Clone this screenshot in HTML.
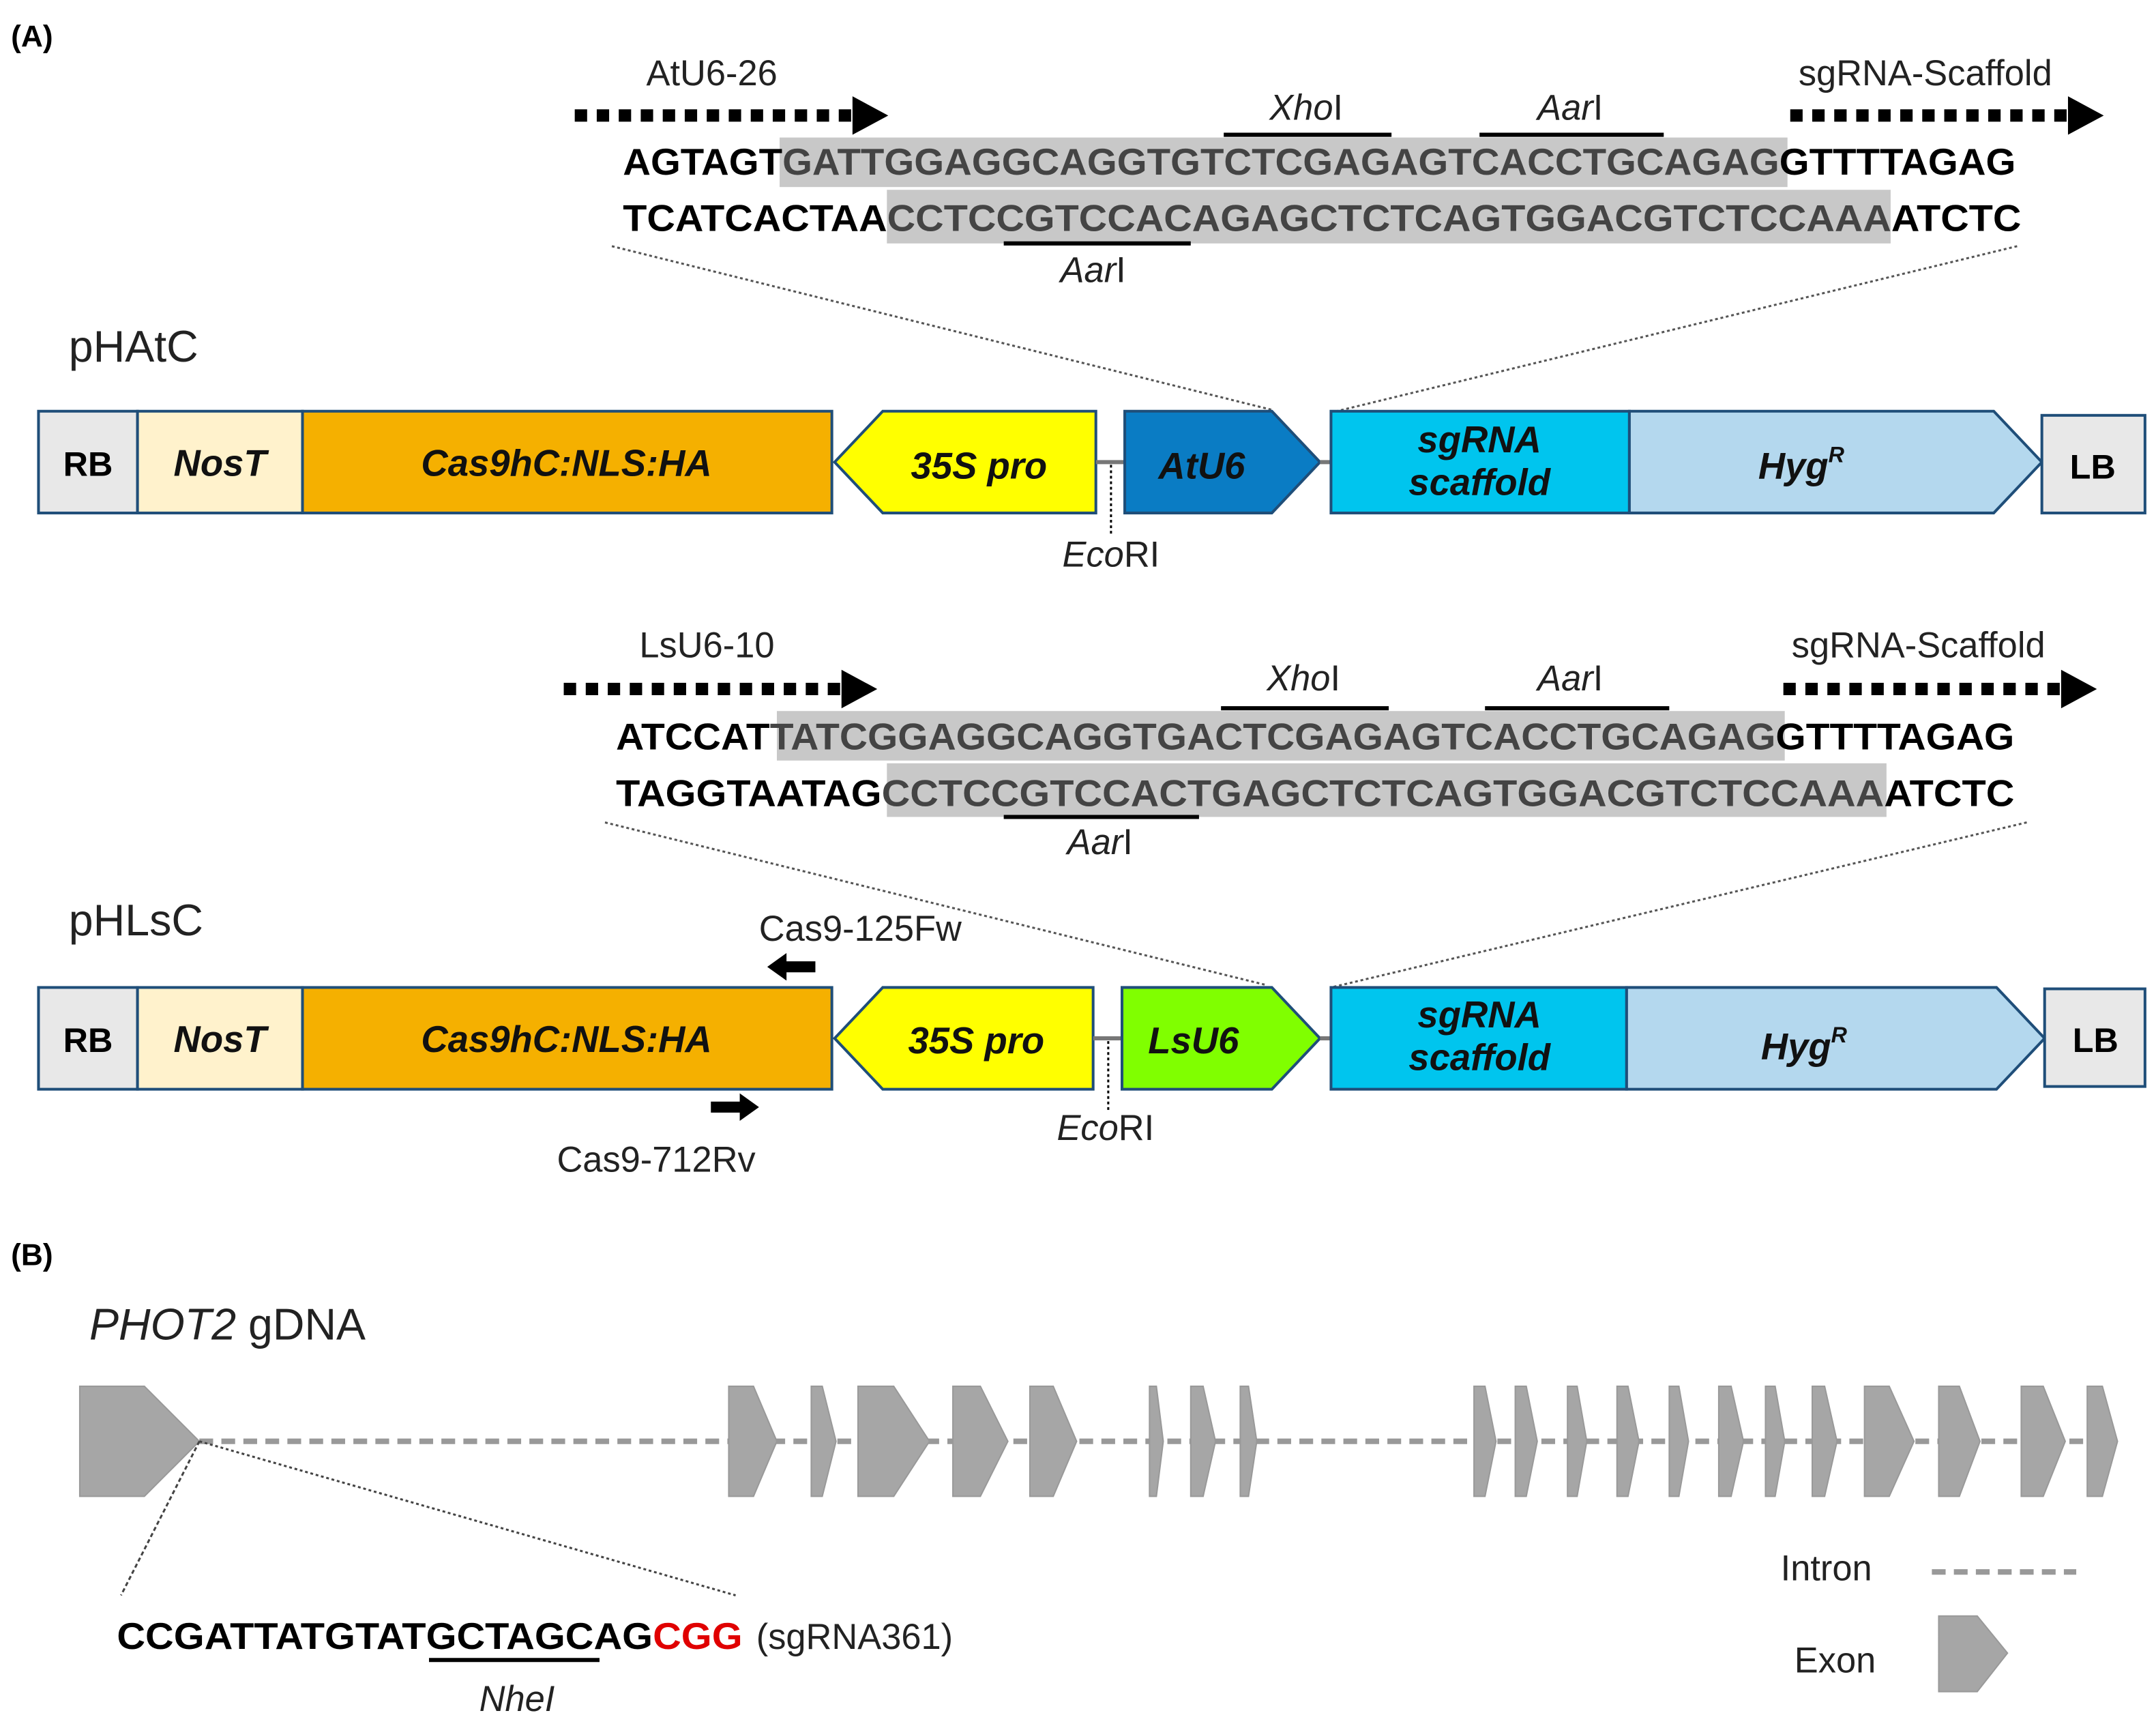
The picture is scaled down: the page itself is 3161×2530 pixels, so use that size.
<!DOCTYPE html>
<html><head><meta charset="utf-8"><style>
html,body{margin:0;padding:0;background:#fff;}
svg{display:block;}
text{font-family:"Liberation Sans",sans-serif;}
.seq{font-weight:bold;font-size:27px;}
.lab{font-size:26px;fill:#222;}
.box{stroke:#1F4E79;stroke-width:2;}
.bt{font-weight:bold;font-style:italic;font-size:27px;fill:#111;}
.ex{fill:#A6A6A6;stroke:#999;stroke-width:1;}
</style></head><body>
<svg width="3161" height="2530" viewBox="0 0 1568 1255" xmlns="http://www.w3.org/2000/svg">
<defs>
<g id="dash"><line x1="0" y1="0" x2="202" y2="0" stroke="#000" stroke-width="9" stroke-dasharray="9,7"/><polygon points="202,-14 228,0 202,14" fill="#000"/></g>
</defs>
<text x="8" y="34" font-weight="bold" font-size="22">(A)</text>

<!-- Block 1 -->
<text x="470" y="62" class="lab">AtU6-26</text>
<use href="#dash" x="418" y="84"/>
<text x="1308" y="62" class="lab">sgRNA-Scaffold</text>
<use href="#dash" x="1302" y="84"/>
<text x="950" y="87" class="lab" text-anchor="middle"><tspan font-style="italic">Xho</tspan>I</text>
<line x1="890" y1="98" x2="1012" y2="98" stroke="#000" stroke-width="3"/>
<text x="1142" y="87" class="lab" text-anchor="middle"><tspan font-style="italic">Aar</tspan>I</text>
<line x1="1076" y1="98" x2="1210" y2="98" stroke="#000" stroke-width="3"/>
<rect x="567" y="100" width="733" height="36" fill="#C8C8C8"/>
<rect x="645" y="138" width="730" height="39" fill="#C8C8C8"/>
<text x="453" y="127" class="seq" textLength="1013" lengthAdjust="spacingAndGlyphs">AGTAGT<tspan fill="#444">GATTGGAGGCAGGTGTCTCGAGAGTCACCTGCAGAG</tspan>GTTTTAGAG</text>
<text x="453" y="168" class="seq" textLength="1017" lengthAdjust="spacingAndGlyphs">TCATCACTAA<tspan fill="#444">CCTCCGTCCACAGAGCTCTCAGTGGACGTCTCCAAA</tspan>ATCTC</text>
<line x1="730" y1="177" x2="866" y2="177" stroke="#000" stroke-width="3"/>
<text x="795" y="205" class="lab" text-anchor="middle"><tspan font-style="italic">Aar</tspan>I</text>
<line x1="445" y1="179" x2="925" y2="298" stroke="#555" stroke-width="1.5" stroke-dasharray="2,2"/>
<line x1="1467" y1="179" x2="968" y2="300" stroke="#555" stroke-width="1.5" stroke-dasharray="2,2"/>

<text x="50" y="263" font-size="32" fill="#222">pHAtC</text>
<g>
<rect x="28" y="299" width="72" height="74" fill="#E8E8E8" class="box"/>
<rect x="100" y="299" width="120" height="74" fill="#FFF2CC" class="box"/>
<rect x="220" y="299" width="385" height="74" fill="#F5B000" class="box"/>
<polygon points="607,336 642,299 797,299 797,373 642,373" fill="#FFFF00" class="box"/>
<line x1="797" y1="336" x2="818" y2="336" stroke="#777" stroke-width="3"/>
<line x1="808" y1="338" x2="808" y2="390" stroke="#000" stroke-width="1.5" stroke-dasharray="2,2"/>
<polygon points="818,299 925,299 960,336 925,373 818,373" fill="#0A7CC4" class="box"/>
<line x1="960" y1="336" x2="968" y2="336" stroke="#777" stroke-width="3"/>
<rect x="968" y="299" width="217" height="74" fill="#00C5EE" class="box"/>
<polygon points="1185,299 1450,299 1485,336 1450,373 1185,373" fill="#B4D8EE" class="box"/>
<rect x="1485" y="302" width="75" height="71" fill="#E8E8E8" class="box"/>
<text x="64" y="346" font-weight="bold" font-size="25" text-anchor="middle">RB</text>
<text x="160" y="346" class="bt" text-anchor="middle">NosT</text>
<text x="412" y="346" class="bt" text-anchor="middle">Cas9hC:NLS:HA</text>
<text x="712" y="348" class="bt" text-anchor="middle">35S pro</text>
<text x="874" y="348" class="bt" text-anchor="middle">AtU6</text>
<text x="1076" y="329" class="bt" text-anchor="middle">sgRNA</text>
<text x="1076" y="360" class="bt" text-anchor="middle">scaffold</text>
<text x="1310" y="348" class="bt" text-anchor="middle">Hyg<tspan font-size="16" dy="-12">R</tspan></text>
<text x="1522" y="348" font-weight="bold" font-size="25" text-anchor="middle">LB</text>
<text x="808" y="412" class="lab" text-anchor="middle"><tspan font-style="italic">Eco</tspan>RI</text>
</g>

<!-- Block 2 -->
<text x="465" y="478" class="lab">LsU6-10</text>
<use href="#dash" x="410" y="501"/>
<text x="1303" y="478" class="lab">sgRNA-Scaffold</text>
<use href="#dash" x="1297" y="501"/>
<text x="948" y="502" class="lab" text-anchor="middle"><tspan font-style="italic">Xho</tspan>I</text>
<line x1="888" y1="515" x2="1010" y2="515" stroke="#000" stroke-width="3"/>
<text x="1142" y="502" class="lab" text-anchor="middle"><tspan font-style="italic">Aar</tspan>I</text>
<line x1="1080" y1="515" x2="1214" y2="515" stroke="#000" stroke-width="3"/>
<rect x="565" y="517" width="733" height="36" fill="#C8C8C8"/>
<rect x="645" y="555" width="727" height="39" fill="#C8C8C8"/>
<text x="448" y="545" class="seq" textLength="1017" lengthAdjust="spacingAndGlyphs">ATCCAT<tspan fill="#444">TATCGGAGGCAGGTGACTCGAGAGTCACCTGCAGAG</tspan>GTTTTAGAG</text>
<text x="448" y="586" class="seq" textLength="1017" lengthAdjust="spacingAndGlyphs">TAGGTAATAG<tspan fill="#444">CCTCCGTCCACTGAGCTCTCAGTGGACGTCTCCAAA</tspan>ATCTC</text>
<line x1="730" y1="594" x2="872" y2="594" stroke="#000" stroke-width="3"/>
<text x="800" y="621" class="lab" text-anchor="middle"><tspan font-style="italic">Aar</tspan>I</text>
<line x1="440" y1="598" x2="920" y2="716" stroke="#555" stroke-width="1.5" stroke-dasharray="2,2"/>
<line x1="1474" y1="598" x2="968" y2="718" stroke="#555" stroke-width="1.5" stroke-dasharray="2,2"/>

<text x="50" y="680" font-size="32" fill="#222">pHLsC</text>
<text x="552" y="684" class="lab">Cas9-125Fw</text>
<polygon points="558,703 572,693 572,699 593,699 593,707 572,707 572,713" fill="#000"/>
<g>
<rect x="28" y="718" width="72" height="74" fill="#E8E8E8" class="box"/>
<rect x="100" y="718" width="120" height="74" fill="#FFF2CC" class="box"/>
<rect x="220" y="718" width="385" height="74" fill="#F5B000" class="box"/>
<polygon points="607,755 642,718 795,718 795,792 642,792" fill="#FFFF00" class="box"/>
<line x1="795" y1="755" x2="816" y2="755" stroke="#777" stroke-width="3"/>
<line x1="806" y1="757" x2="806" y2="808" stroke="#000" stroke-width="1.5" stroke-dasharray="2,2"/>
<polygon points="816,718 925,718 960,755 925,792 816,792" fill="#80FF00" class="box"/>
<line x1="960" y1="755" x2="968" y2="755" stroke="#777" stroke-width="3"/>
<rect x="968" y="718" width="215" height="74" fill="#00C5EE" class="box"/>
<polygon points="1183,718 1452,718 1487,755 1452,792 1183,792" fill="#B4D8EE" class="box"/>
<rect x="1487" y="719" width="73" height="71" fill="#E8E8E8" class="box"/>
<text x="64" y="765" font-weight="bold" font-size="25" text-anchor="middle">RB</text>
<text x="160" y="765" class="bt" text-anchor="middle">NosT</text>
<text x="412" y="765" class="bt" text-anchor="middle">Cas9hC:NLS:HA</text>
<text x="710" y="766" class="bt" text-anchor="middle">35S pro</text>
<text x="868" y="766" class="bt" text-anchor="middle">LsU6</text>
<text x="1076" y="747" class="bt" text-anchor="middle">sgRNA</text>
<text x="1076" y="778" class="bt" text-anchor="middle">scaffold</text>
<text x="1312" y="770" class="bt" text-anchor="middle">Hyg<tspan font-size="16" dy="-12">R</tspan></text>
<text x="1524" y="765" font-weight="bold" font-size="25" text-anchor="middle">LB</text>
<text x="804" y="829" class="lab" text-anchor="middle"><tspan font-style="italic">Eco</tspan>RI</text>
</g>
<polygon points="552,805 538,795 538,801 517,801 517,809 538,809 538,815" fill="#000"/>
<text x="405" y="852" class="lab">Cas9-712Rv</text>

<!-- (B) -->
<text x="8" y="920" font-weight="bold" font-size="22">(B)</text>
<text x="65" y="974" font-size="32" fill="#222"><tspan font-style="italic">PHOT2</tspan> gDNA</text>
<line x1="145" y1="1048" x2="1540" y2="1048" stroke="#999" stroke-width="4" stroke-dasharray="10,6"/>
<polygon class="ex" points="58,1008 105,1008 145,1048 105,1088 58,1088"/>
<g class="ex">
<polygon points="530,1008 548,1008 565,1048 548,1088 530,1088"/>
<polygon points="590,1008 598,1008 608,1048 598,1088 590,1088"/>
<polygon points="624,1008 650,1008 676,1048 650,1088 624,1088"/>
<polygon points="693,1008 713,1008 733,1048 713,1088 693,1088"/>
<polygon points="749,1008 766,1008 783,1048 766,1088 749,1088"/>
<polygon points="836,1008 841,1008 846,1048 841,1088 836,1088"/>
<polygon points="866,1008 875,1008 884,1048 875,1088 866,1088"/>
<polygon points="902,1008 908,1008 914,1048 908,1088 902,1088"/>
<polygon points="1072,1008 1080,1008 1088,1048 1080,1088 1072,1088"/>
<polygon points="1102,1008 1110,1008 1118,1048 1110,1088 1102,1088"/>
<polygon points="1140,1008 1147,1008 1154,1048 1147,1088 1140,1088"/>
<polygon points="1176,1008 1184,1008 1192,1048 1184,1088 1176,1088"/>
<polygon points="1214,1008 1221,1008 1228,1048 1221,1088 1214,1088"/>
<polygon points="1250,1008 1259,1008 1268,1048 1259,1088 1250,1088"/>
<polygon points="1284,1008 1291,1008 1298,1048 1291,1088 1284,1088"/>
<polygon points="1318,1008 1327,1008 1336,1048 1327,1088 1318,1088"/>
<polygon points="1356,1008 1374,1008 1392,1048 1374,1088 1356,1088"/>
<polygon points="1410,1008 1425,1008 1440,1048 1425,1088 1410,1088"/>
<polygon points="1470,1008 1486,1008 1502,1048 1486,1088 1470,1088"/>
<polygon points="1518,1008 1529,1008 1540,1048 1529,1088 1518,1088"/>
</g>
<line x1="145" y1="1048" x2="88" y2="1160" stroke="#444" stroke-width="1.5" stroke-dasharray="3,2"/>
<line x1="145" y1="1048" x2="535" y2="1160" stroke="#444" stroke-width="1.5" stroke-dasharray="2,2"/>
<text x="85" y="1199" class="seq" textLength="455" lengthAdjust="spacingAndGlyphs">CCGATTATGTATGCTAGCAG<tspan fill="#E00000">CGG</tspan></text>
<text x="550" y="1199" class="lab">(sgRNA361)</text>
<line x1="312" y1="1207" x2="436" y2="1207" stroke="#000" stroke-width="3"/>
<text x="376" y="1244" class="lab" font-style="italic" text-anchor="middle">NheI</text>
<text x="1295" y="1149" class="lab">Intron</text>
<line x1="1405" y1="1143" x2="1510" y2="1143" stroke="#999" stroke-width="4" stroke-dasharray="10,6"/>
<text x="1305" y="1216" class="lab">Exon</text>
<polygon class="ex" points="1410,1175 1438,1175 1460,1202 1438,1230 1410,1230"/>
</svg>
</body></html>
